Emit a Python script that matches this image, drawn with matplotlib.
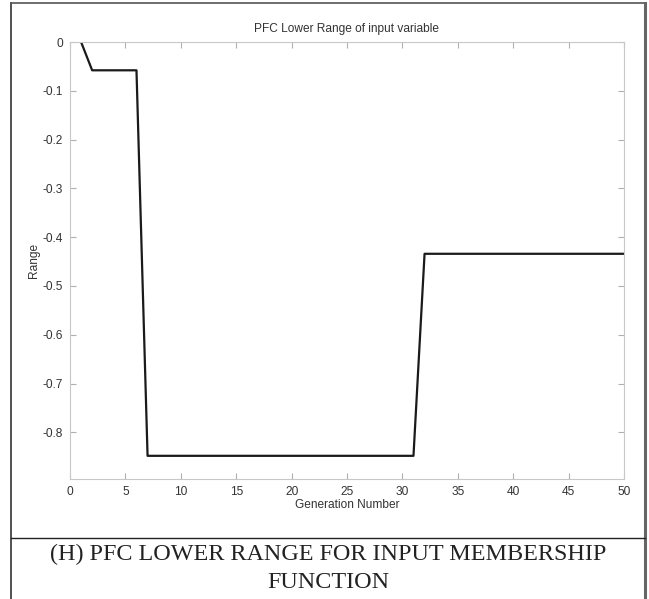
import matplotlib
matplotlib.use("Agg")
import matplotlib.pyplot as plt
from matplotlib.lines import Line2D

generations = [1, 2, 3, 4, 5, 6, 7, 8, 9, 10, 11, 12, 13, 14, 15, 16, 17, 18, 19, 20,
               21, 22, 23, 24, 25, 26, 27, 28, 29, 30, 31, 32, 33, 34, 35, 36, 37, 38, 39, 40,
               41, 42, 43, 44, 45, 46, 47, 48, 49, 50]
lower_range = [0.0] + [-0.058] * 5 + [-0.848] * 25 + [-0.434] * 19

x_ticks = [0, 5, 10, 15, 20, 25, 30, 35, 40, 45, 50]
y_ticks = [0, -0.1, -0.2, -0.3, -0.4, -0.5, -0.6, -0.7, -0.8]
y_tick_labels = ["0", "-0.1", "-0.2", "-0.3", "-0.4", "-0.5", "-0.6", "-0.7", "-0.8"]

title = "PFC Lower Range of input variable"
xlabel = "Generation Number"
ylabel = "Range"
caption_lines = ["(H) PFC LOWER RANGE FOR INPUT MEMBERSHIP", "FUNCTION"]

W, H = 649, 599
fig = plt.figure(figsize=(W / 100, H / 100), dpi=100)
fig.patch.set_facecolor("white")

def fx(px):
    return px / W

def fy(py):
    return 1 - py / H

ax = fig.add_axes([fx(70), fy(479), fx(624) - fx(70), fy(42) - fy(479)])
ax.plot(generations, lower_range, color="#1a1a1a", lw=1.6)
ax.set_xlim(0, 50)
ax.set_ylim(-0.8955, 0)
ax.set_xticks(x_ticks)
ax.set_yticks(y_ticks)
ax.set_yticklabels(y_tick_labels)

sans = ["Liberation Sans", "DejaVu Sans"]
for s in ax.spines.values():
    s.set_color("#c8c8c8")
    s.set_linewidth(0.8)
ax.tick_params(direction="in", length=4, width=0.8, color="#b0b0b0",
               labelcolor="#333333", labelsize=8.6, top=True, right=True, pad=5)
for lab in ax.get_xticklabels() + ax.get_yticklabels():
    lab.set_family(sans)

ax.set_title(title, fontsize=8.6, color="#333333", family=sans, pad=7)
ax.set_xlabel(xlabel, fontsize=8.6, color="#333333", family=sans, labelpad=1)
ax.set_ylabel(ylabel, fontsize=8.6, color="#333333", family=sans, labelpad=2)

# outer frame
fig.add_artist(Line2D([fx(11), fx(11)], [fy(3), 0], transform=fig.transFigure, color="#333333", lw=1.2))
fig.add_artist(Line2D([fx(11), fx(645)], [fy(3), fy(3)], transform=fig.transFigure, color="#555555", lw=1.2))
fig.add_artist(Line2D([fx(645), fx(645)], [fy(3), 0], transform=fig.transFigure, color="#666666", lw=2.2))
fig.add_artist(Line2D([fx(11), fx(645)], [fy(538), fy(538)], transform=fig.transFigure, color="#222222", lw=1.0))

serif = ["Liberation Serif", "DejaVu Serif"]
fig.text(fx(328), fy(554), caption_lines[0], ha="center", va="center", fontsize=17.4,
         family=serif, color="#222222")
fig.text(fx(328), fy(582), caption_lines[1], ha="center", va="center", fontsize=17.4,
         family=serif, color="#222222")

fig.savefig("out.png", dpi=100, facecolor="white")
